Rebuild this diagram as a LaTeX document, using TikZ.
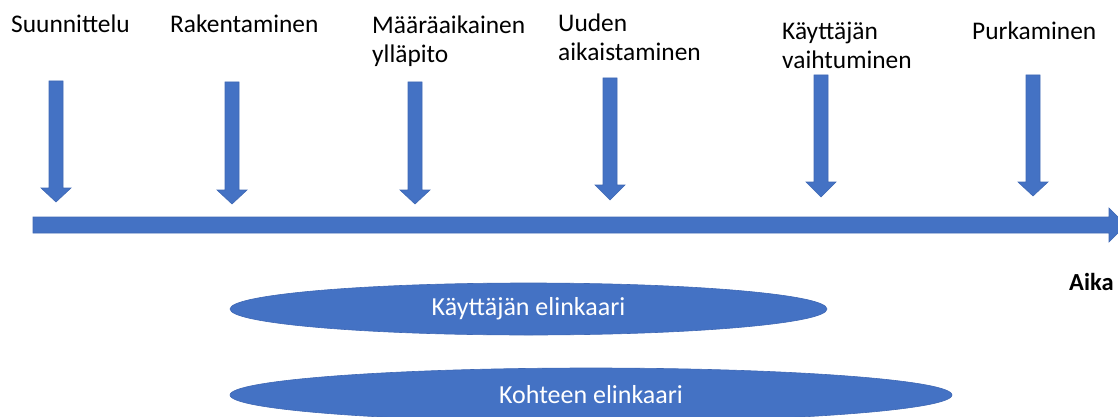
\documentclass[tikz,border=0pt]{standalone}
\usepackage{fontspec}
\setmainfont{Carlito}
\definecolor{offblue}{HTML}{4472C4}
\definecolor{offedge}{HTML}{3F68B4}
\tikzset{
  lbl/.style={inner sep=0pt, anchor=base west, font=\fontsize{25.4}{29}\selectfont, align=left},
  blueshape/.style={fill=offblue, draw=offedge, line width=0.6pt},
  lifecycle/.style={ellipse, fill=offblue, draw=offedge, line width=0.6pt, inner sep=0pt,
    text=white, font=\fontsize{26}{30}\selectfont},
}
\usetikzlibrary{shapes.geometric}
\newcommand{\downarr}[4]{% cx, top, headbase, tip
  \fill[blueshape] (#1-7,#2) -- (#1+7,#2) -- (#1+7,#3) -- (#1+15,#3) -- (#1,#4)
    -- (#1-15,#3) -- (#1-7,#3) -- cycle;}
\begin{document}
\begin{tikzpicture}[x=1pt,y=-1pt]
\useasboundingbox (0,0) rectangle (1118,417);
% time axis
\fill[blueshape] (33,217) -- (1109,217) -- (1109,208) -- (1126,225) -- (1109,242)
  -- (1109,233) -- (33,233) -- cycle;
% down arrows
\downarr{56}{81}{188}{202}
\downarr{232}{82}{190}{204}
\downarr{415}{82}{190}{204}
\downarr{610}{78}{185}{200}
\downarr{821}{75}{182}{197}
\downarr{1033}{75}{182}{196}
% labels (multi-line nodes are placed by the baseline of their last line)
\node[lbl] (suun) at (11,33) {Suunnittelu};
\node[lbl] (rak) at (170,33) {Rakentaminen};
\node[lbl] (maar) at (372,63) {Määräaikainen\\ylläpito};
\node[lbl] (uud) at (558,61) {Uuden\\aikaistaminen};
\node[lbl] (kvai) at (782,69) {Käyttäjän\\vaihtuminen};
\node[lbl] (purk) at (972,40) {Purkaminen};
\node[lbl, font=\fontsize{24.5}{29}\selectfont\bfseries] (aika) at (1069,290) {Aika};
% lifecycles
\node[lifecycle, minimum width=597pt, minimum height=52pt] (kel) at (528.5,309) {Käyttäjän elinkaari};
\node[lifecycle, minimum width=722pt, minimum height=54pt] (koh) at (591,395) {Kohteen elinkaari};
\end{tikzpicture}
\end{document}
